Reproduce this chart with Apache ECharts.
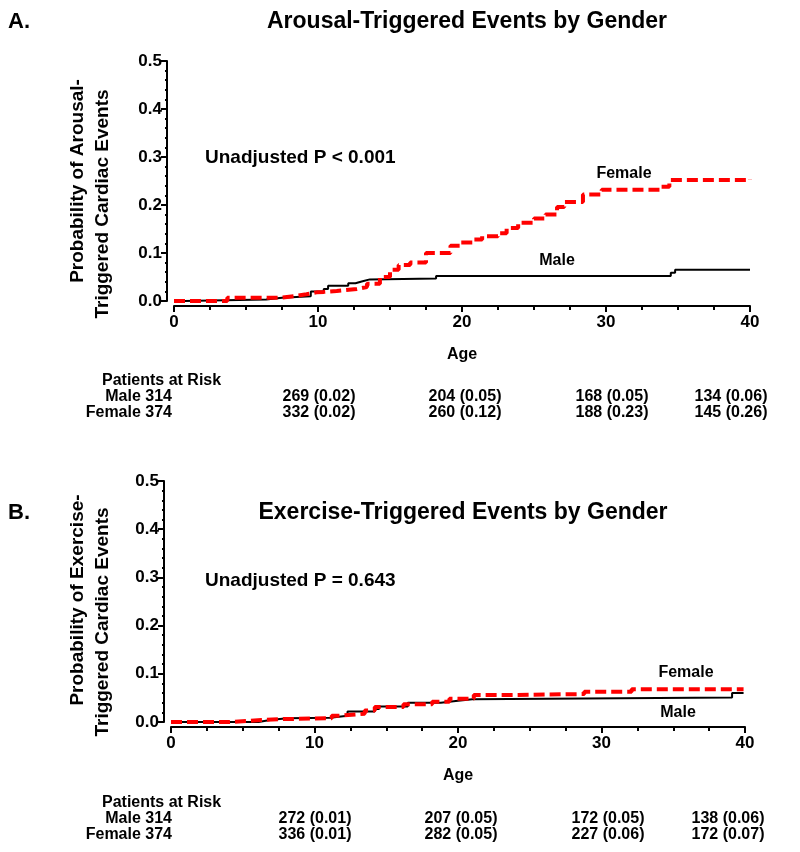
<!DOCTYPE html>
<html>
<head>
<meta charset="utf-8">
<script src="https://cdn.jsdelivr.net/npm/echarts@6/dist/echarts.min.js"></script>
<style>html,body{margin:0;padding:0;background:#fff;}#c{width:800px;height:852px;}</style>
</head>
<body>
<div id="c"></div>
<script>
// ---------- Data ----------
var xTicks = [0, 10, 20, 30, 40];
var yTicks = [0.0, 0.1, 0.2, 0.3, 0.4, 0.5];

// Panel A: Arousal-triggered events
var maleA_age = [0, 0.7, 6.4, 7.5, 9.5, 10.4, 10.7, 12.1, 12.6, 13.1, 13.6, 18.2, 34.5, 34.8, 40];
var maleA_p   = [0, 0.003, 0.007, 0.010, 0.020, 0.025, 0.032, 0.037, 0.041, 0.045, 0.047, 0.052, 0.059, 0.065, 0.065];
var femaleA_age = [0, 3.7, 7.4, 8.3, 9.2, 9.9, 10.4, 11.3, 12.7, 13.4, 14.3, 15.0, 15.6, 16.4, 17.5, 19.2, 19.9, 20.8, 21.4, 22.5, 23.1, 23.9, 25.0, 25.8, 26.6, 27.1, 28.4, 29.7, 33.8, 34.4, 40];
var femaleA_p   = [0, 0.007, 0.010, 0.014, 0.018, 0.019, 0.021, 0.025, 0.029, 0.036, 0.050, 0.065, 0.075, 0.080, 0.100, 0.115, 0.122, 0.128, 0.135, 0.141, 0.152, 0.163, 0.172, 0.180, 0.196, 0.206, 0.222, 0.232, 0.238, 0.252, 0.254];

// Panel B: Exercise-triggered events
var maleB_age = [0, 6.1, 6.9, 8.1, 11.1, 12.3, 14.2, 14.5, 16.5, 18.8, 20.0, 21.0, 39.1, 39.9];
var maleB_p   = [0, 0.004, 0.008, 0.009, 0.013, 0.022, 0.027, 0.032, 0.040, 0.044, 0.047, 0.051, 0.060, 0.060];
var femaleB_age = [0, 4.1, 6.3, 7.8, 11.2, 11.7, 13.5, 14.2, 16.2, 18.2, 19.4, 21.1, 23.7, 28.8, 32.1, 39.9];
var femaleB_p   = [0, 0.004, 0.006, 0.008, 0.013, 0.017, 0.024, 0.031, 0.037, 0.042, 0.048, 0.056, 0.058, 0.063, 0.068, 0.068];

// Patients at risk tables
var riskLabelMale = "Male 314";
var riskLabelFemale = "Female 374";
var riskA_male   = ["269 (0.02)", "204 (0.05)", "168 (0.05)", "134 (0.06)"];
var riskA_female = ["332 (0.02)", "260 (0.12)", "188 (0.23)", "145 (0.26)"];
var riskB_male   = ["272 (0.01)", "207 (0.05)", "172 (0.05)", "138 (0.06)"];
var riskB_female = ["336 (0.01)", "282 (0.05)", "227 (0.06)", "172 (0.07)"];

// ---------- Helpers ----------
function pairs(xs, ys) { return xs.map(function (x, i) { return [x, ys[i]]; }); }
var FONT = '"Liberation Sans", Arial, sans-serif';

function xAxisDef(gridIndex) {
  return {
    type: 'value', gridIndex: gridIndex, min: 0, max: 40, interval: 10, offset: 5,
    name: 'Age', nameLocation: 'middle', nameGap: 41,
    nameTextStyle: { fontFamily: FONT, fontWeight: 'bold', fontSize: 16, color: '#000' },
    axisLine: { show: true, onZero: false, lineStyle: { color: '#000', width: 2 } },
    axisTick: { show: true, inside: false, length: 6, lineStyle: { color: '#000', width: 2 } },
    minorTick: { show: true, splitNumber: 4, length: 4, lineStyle: { color: '#000', width: 2 } },
    axisLabel: { fontFamily: FONT, fontWeight: 'bold', fontSize: 17, color: '#000', margin: 8 },
    splitLine: { show: false }, minorSplitLine: { show: false }
  };
}
function yAxisDef(gridIndex) {
  return {
    type: 'value', gridIndex: gridIndex, min: 0, max: 0.5, interval: 0.1, offset: 7,
    axisLine: { show: true, onZero: false, lineStyle: { color: '#000', width: 2 } },
    axisTick: { show: true, inside: false, length: 6, lineStyle: { color: '#000', width: 2 } },
    minorTick: { show: true, splitNumber: 5, length: 2, lineStyle: { color: '#000', width: 2 } },
    axisLabel: { fontFamily: FONT, fontWeight: 'bold', fontSize: 17, color: '#000', margin: 5,
      formatter: function (v) { return v.toFixed(1); } },
    splitLine: { show: false }, minorSplitLine: { show: false }
  };
}
function maleSeries(idx, data) {
  return { type: 'line', xAxisIndex: idx, yAxisIndex: idx, step: 'end', data: data, symbol: 'none',
    lineStyle: { color: '#000', width: 2 }, z: 3, animation: false };
}
function femaleSeries(idx, data) {
  return { type: 'line', xAxisIndex: idx, yAxisIndex: idx, step: 'end', data: data, symbol: 'none',
    lineStyle: { color: '#ff0000', width: 4, type: [11, 5] }, z: 4, animation: false };
}
function txt(x, y, text, size, align, extra) {
  var o = { type: 'text', x: x, y: y, style: { text: text, fontFamily: FONT, fontWeight: 'bold',
    fontSize: size, fill: '#000', textAlign: align || 'left', textVerticalAlign: 'middle' } };
  if (extra) { for (var k in extra) o[k] = extra[k]; }
  return o;
}

var graphics = [
  txt(8, 22, 'A.', 22, 'left'),
  txt(467, 22, 'Arousal-Triggered Events by Gender', 23, 'center'),
  txt(8, 513, 'B.', 22, 'left'),
  txt(463, 513, 'Exercise-Triggered Events by Gender', 23, 'center'),
  txt(78, 181, 'Probability of Arousal-', 19, 'center', { rotation: Math.PI / 2 }),
  txt(103, 204, 'Triggered Cardiac Events', 19, 'center', { rotation: Math.PI / 2 }),
  txt(78, 600, 'Probability of Exercise-', 19, 'center', { rotation: Math.PI / 2 }),
  txt(103, 622, 'Triggered Cardiac Events', 19, 'center', { rotation: Math.PI / 2 }),
  txt(205, 158, 'Unadjusted P < 0.001', 19, 'left'),
  txt(205, 581, 'Unadjusted P = 0.643', 19, 'left'),
  txt(624, 174, 'Female', 16, 'center'),
  txt(557, 261, 'Male', 16, 'center'),
  txt(686, 673, 'Female', 16, 'center'),
  txt(678, 713, 'Male', 16, 'center')
];

function riskTable(top, male, female, xs) {
  graphics.push(txt(102, top, 'Patients at Risk', 16, 'left'));
  graphics.push(txt(172, top + 16, riskLabelMale, 16, 'right'));
  graphics.push(txt(172, top + 32, riskLabelFemale, 16, 'right'));
  for (var i = 0; i < male.length; i++) {
    graphics.push(txt(xs[i], top + 16, male[i], 16, 'center'));
    graphics.push(txt(xs[i], top + 32, female[i], 16, 'center'));
  }
}
riskTable(381, riskA_male, riskA_female, [319, 465, 612, 731]);
riskTable(803, riskB_male, riskB_female, [315, 461, 608, 728]);

var chart = echarts.init(document.getElementById('c'), null, { renderer: 'canvas' });
chart.setOption({
  backgroundColor: '#fff',
  animation: false,
  grid: [
    { left: 174, top: 61, width: 576, height: 240 },
    { left: 171, top: 481, width: 574, height: 241 }
  ],
  xAxis: [xAxisDef(0), xAxisDef(1)],
  yAxis: [yAxisDef(0), yAxisDef(1)],
  series: [
    maleSeries(0, pairs(maleA_age, maleA_p)),
    femaleSeries(0, pairs(femaleA_age, femaleA_p)),
    maleSeries(1, pairs(maleB_age, maleB_p)),
    femaleSeries(1, pairs(femaleB_age, femaleB_p))
  ],
  graphic: graphics
});
</script>
</body>
</html>
